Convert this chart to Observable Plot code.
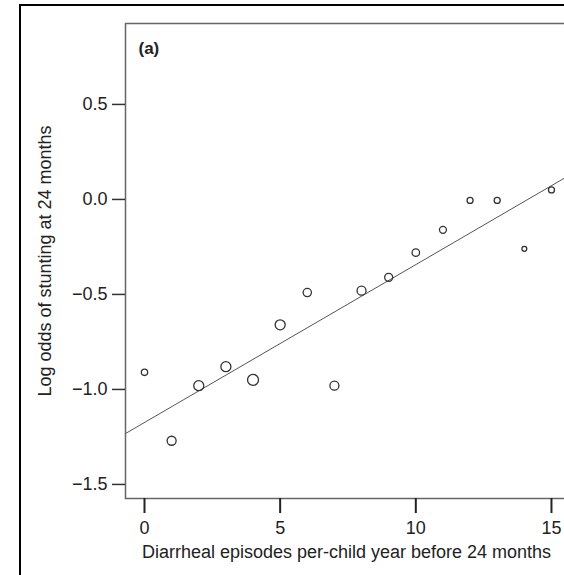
<!DOCTYPE html>
<html>
<head>
<meta charset="utf-8">
<script src="https://cdn.jsdelivr.net/npm/d3@7"></script>
<script src="https://cdn.jsdelivr.net/npm/@observablehq/plot@0.6"></script>
<style>
  html, body { margin: 0; padding: 0; background: #fff; }
  #wrap { position: relative; width: 564px; height: 575px; overflow: hidden; }
  #outer { position: absolute; left: 19px; top: 4px; width: 600px; height: 600px;
           border-left: 2px solid #000; border-top: 2px solid #000; }
  #chart { position: absolute; left: 0; top: 0; width: 580px; }
  #chart svg { font-family: "Liberation Sans", Arial, sans-serif; max-width: none !important; }
</style>
</head>
<body>
<div id="wrap"><div id="outer"></div><div id="chart"></div></div>
<script>
// Diarrheal episodes per-child year before 24 months (x)
const episodes = [0, 1, 2, 3, 4, 5, 6, 7, 8, 9, 10, 11, 12, 13, 14, 15];
// Log odds of stunting at 24 months (y)
const logOdds = [-0.91, -1.27, -0.98, -0.88, -0.95, -0.66, -0.49, -0.98, -0.48, -0.41, -0.28, -0.16, -0.005, -0.005, -0.26, 0.05];
// Relative weight (circle area) of each group
const weights = [10, 20, 25, 25, 30, 25, 17, 20, 20, 16, 14, 12, 9, 9, 6, 9];
// Fitted regression line
const fitIntercept = -1.174;
const fitSlope = 0.0831;
const xTicks = [0, 5, 10, 15];
const yTicks = [-1.5, -1.0, -0.5, 0.0, 0.5];
const panelLabel = "(a)";
const xTitle = "Diarrheal episodes per-child year before 24 months";
const yTitle = "Log odds of stunting at 24 months";

const points = episodes.map((x, i) => ({x, y: logOdds[i], w: weights[i]}));
const xDomain = [-0.70, 16.07];
const yDomain = [-1.574, 0.926];
const fitLine = xDomain.map(x => ({x, y: fitIntercept + fitSlope * x}));

const plot = Plot.plot({
  width: 580,
  height: 575,
  marginLeft: 125,
  marginTop: 23,
  marginBottom: 77,
  marginRight: 0,
  x: {domain: xDomain},
  y: {domain: yDomain},
  r: {type: "sqrt", domain: [0, 30], range: [0, 5.5]},
  style: {fontSize: "18px", fontFamily: "Liberation Sans, Arial, sans-serif", color: "#222", overflow: "visible", maxWidth: "none"},
  marks: [
    Plot.line(fitLine, {x: "x", y: "y", stroke: "#555", strokeWidth: 1, clip: true}),
    Plot.dot(points, {x: "x", y: "y", r: "w", stroke: "#333", strokeWidth: 1.3, fill: "none"}),
    Plot.frame({stroke: "#666", strokeWidth: 1.5}),
    Plot.axisX({ticks: xTicks, tickSize: 15, tickPadding: 8, tickFormat: d3.format("d"),
                strokeWidth: 2, stroke: "#222", fontSize: 18, label: null}),
    Plot.axisY({ticks: yTicks, tickSize: 13, tickPadding: 5, tickFormat: d3.format(".1f"),
                strokeWidth: 1.5, stroke: "#333", fontSize: 18, label: null}),
    Plot.text([xTitle], {frameAnchor: "bottom-left", dx: 221, dy: 59, textAnchor: "middle", fontSize: 18, fill: "#222"}),
    Plot.text([yTitle], {frameAnchor: "left", dx: -80, rotate: -90, textAnchor: "middle", fontSize: 18, fill: "#222"}),
    Plot.text([panelLabel], {frameAnchor: "top-left", dx: 13, dy: 18, fontSize: 17, fontWeight: "bold", fill: "#222"})
  ]
});
document.getElementById("chart").appendChild(plot);
</script>
</body>
</html>
